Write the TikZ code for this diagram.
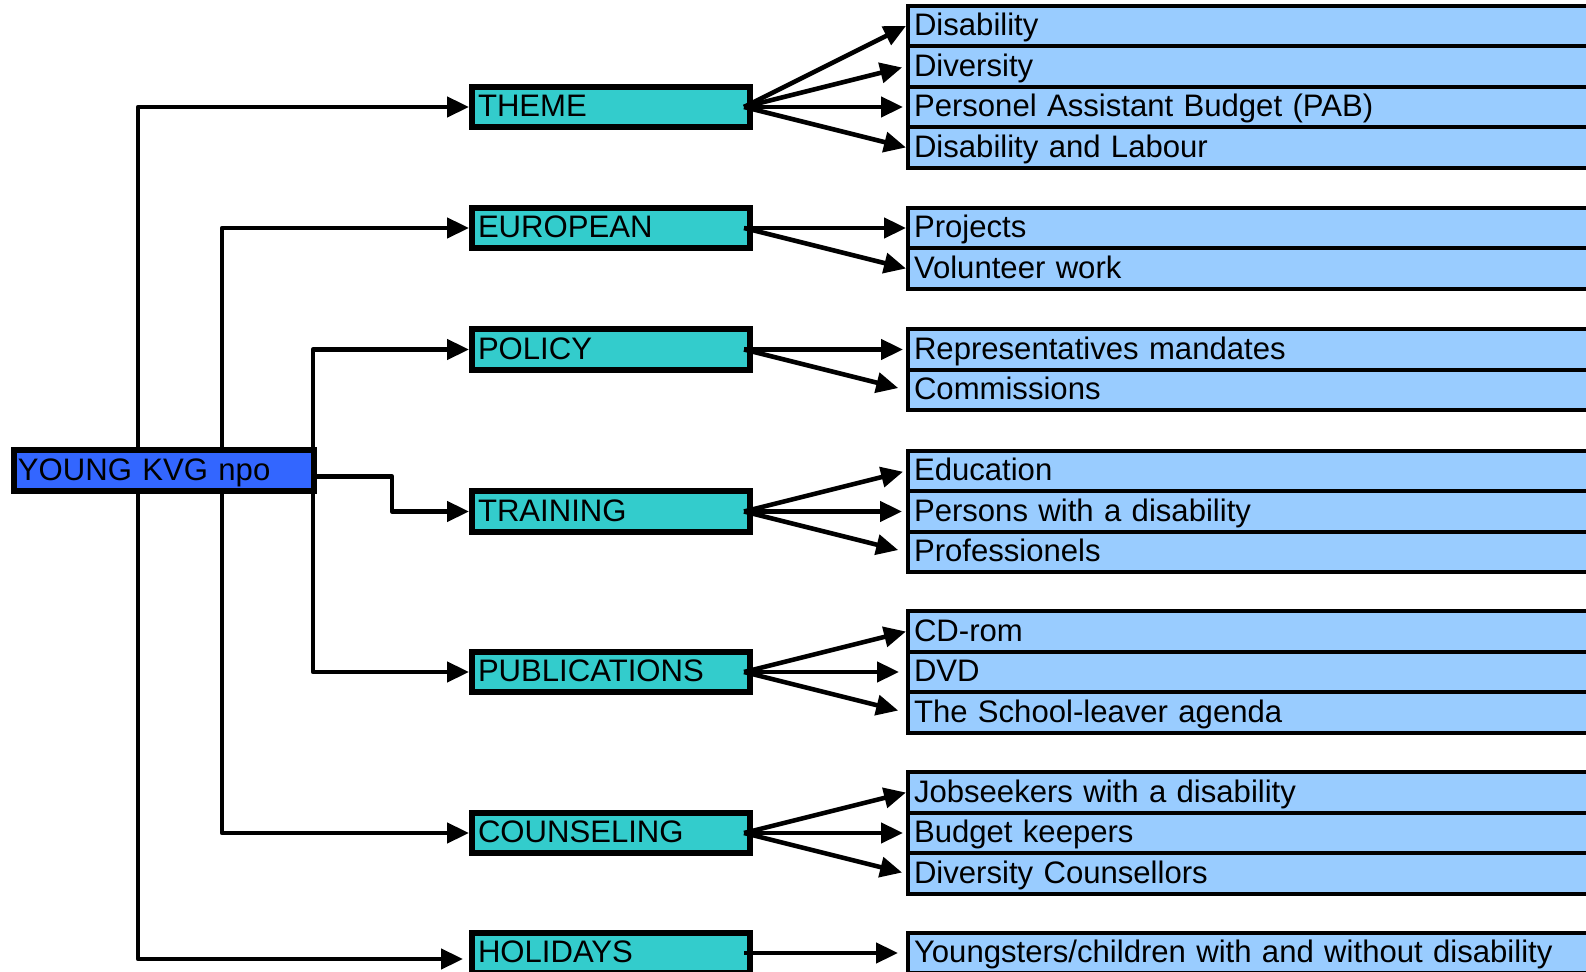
\documentclass[tikz,border=0pt]{standalone}
\usepackage{fontspec}
\setmainfont{Liberation Sans}
\usetikzlibrary{arrows.meta,calc}
\definecolor{rootblue}{HTML}{3366FF}
\definecolor{grpteal}{HTML}{33CCCC}
\definecolor{itemblue}{HTML}{99CCFF}
\begin{document}
\begin{tikzpicture}[x=0.5pt,y=-0.5pt,
  every node/.style={font=\fontsize{15.55}{18}\selectfont, text height=11.1pt, text depth=1.4pt, inner ysep=0pt, align=left, anchor=west},
  rootbox/.style={draw, line width=3pt, fill=rootblue, text width=146pt, inner xsep=2pt, minimum height=20.5pt},
  grpbox/.style={draw, line width=3pt, fill=grpteal, text width=133pt, inner xsep=3pt, minimum height=20.25pt},
  itembox/.style={draw, line width=2pt, fill=itemblue, text width=394pt, inner xsep=3pt, minimum height=20.25pt},
  conn/.style={line width=2.3pt, line join=round, -{Triangle[length=11pt,width=10pt]}}]
\useasboundingbox (0,0) rectangle (1586,972);
\clip (0,0) rectangle (1586,972);

% root and groups
\node[rootbox] (root) at (11,470.5) {YOUNG KVG npo};
\node[grpbox] (theme) at (469,107) {THEME};
\node[grpbox] (eur) at (469,228) {EUROPEAN};
\node[grpbox] (pol) at (469,349.5) {POLICY};
\node[grpbox] (tra) at (469,511.5) {TRAINING};
\node[grpbox] (pub) at (469,672) {PUBLICATIONS};
\node[grpbox] (cou) at (469,833) {COUNSELING};
\node[grpbox] (hol) at (469,953) {HOLIDAYS};

% items
\node[itembox] (t1) at (906,26) {Disability};
\node[itembox] (t2) at (906,66.5) {Diversity};
\node[itembox] (t3) at (906,107) {Personel Assistant Budget (PAB)};
\node[itembox] (t4) at (906,147.5) {Disability and Labour};
\node[itembox] (e1) at (906,228) {Projects};
\node[itembox] (e2) at (906,268.5) {Volunteer work};
\node[itembox] (p1) at (906,349.5) {Representatives mandates};
\node[itembox] (p2) at (906,390) {Commissions};
\node[itembox] (r1) at (906,471) {Education};
\node[itembox] (r2) at (906,511.5) {Persons with a disability};
\node[itembox] (r3) at (906,552) {Professionels};
\node[itembox] (u1) at (906,631.5) {CD-rom};
\node[itembox] (u2) at (906,672) {DVD};
\node[itembox] (u3) at (906,712.5) {The School-leaver agenda};
\node[itembox] (c1) at (906,792.5) {Jobseekers with a disability};
\node[itembox] (c2) at (906,833) {Budget keepers};
\node[itembox] (c3) at (906,873.5) {Diversity Counsellors};
\node[itembox] (h1) at (906,953) {Youngsters/children with and without disability};

% group -> item arrows
\foreach \g/\i/\s in {theme/t1/0pt,theme/t2/2pt,theme/t3/1.5pt,theme/t4/0pt,
                      eur/e1/0pt,eur/e2/0pt,
                      pol/p1/1.5pt,pol/p2/4pt,
                      tra/r1/1.5pt,tra/r2/2pt,tra/r3/4pt,
                      pub/u1/0pt,pub/u2/3.5pt,pub/u3/4pt,
                      cou/c1/0pt,cou/c2/1.5pt,cou/c3/2pt,
                      hol/h1/4pt}
  \draw[conn, shorten >=\s] ($(\g.east)+(-9,0)$) -- (\i.west);

% root -> group connectors
\coordinate (xa) at (138,0);
\coordinate (xb) at (222,0);
\coordinate (xc) at (313,0);
\coordinate (xd) at (392,0);
\coordinate (ro) at ($(root.east)+(0,6)$);
\coordinate (hw) at ($(hol.west)+(0,6)$);
\draw[conn] (root.north -| xa) |- (theme.west);
\draw[conn] (root.north -| xb) |- (eur.west);
\draw[conn] (root.north -| xc) |- (pol.west);
\draw[conn] (ro) -- (ro -| xd) |- (tra.west);
\draw[conn] (root.south -| xc) |- (pub.west);
\draw[conn] (root.south -| xb) |- (cou.west);
\draw[conn, shorten >=3pt] (root.south -| xa) |- (hw);
\end{tikzpicture}
\end{document}
